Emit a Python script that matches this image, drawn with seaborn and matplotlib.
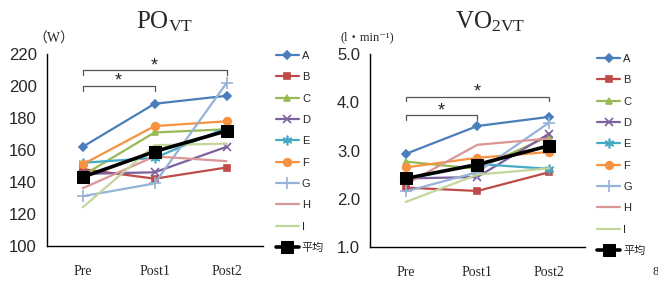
import numpy as np
import pandas as pd
import matplotlib
matplotlib.use("Agg")
import matplotlib.pyplot as plt
import seaborn as sns

phases = ["Pre", "Post1", "Post2"]
subjects = ["A", "B", "C", "D", "E", "F", "G", "H", "I"]

po_vt = {
    "A": [162, 189, 194],
    "B": [148, 142, 149],
    "C": [144, 171, 173],
    "D": [145, 146, 162],
    "E": [152, 155, 174],
    "F": [151, 175, 178],
    "G": [131, 139, 202],
    "H": [136, 156, 153],
    "I": [124, 163, 164],
}
po_mean = [143, 159, 172]

vo2_vt = {
    "A": [2.93, 3.51, 3.70],
    "B": [2.23, 2.16, 2.55],
    "C": [2.77, 2.62, 3.30],
    "D": [2.42, 2.45, 3.35],
    "E": [2.40, 2.72, 2.62],
    "F": [2.65, 2.85, 2.97],
    "G": [2.15, 2.55, 3.58],
    "H": [2.30, 3.12, 3.25],
    "I": [1.93, 2.50, 2.63],
}
vo2_mean = [2.42, 2.71, 3.10]

colors = {
    "A": "#4a7ebb", "B": "#be4b48", "C": "#98b954", "D": "#7d60a0",
    "E": "#46aac5", "F": "#f69240", "G": "#95b3d7", "H": "#d99694",
    "I": "#c3d69b",
}
markers = {
    "A": "D", "B": "s", "C": "^", "D": "x", "E": (6, 2, 0),
    "F": "o", "G": "+", "H": None, "I": None,
}
msizes = {"A": 4, "B": 5, "C": 5, "D": 6, "E": 7, "F": 5.5, "G": 8, "H": 0, "I": 0}

sns.set_theme(style="white")
plt.rcParams["font.family"] = ["Liberation Sans", "Noto Sans CJK JP"]
plt.rcParams["mathtext.fontset"] = "custom"
plt.rcParams["mathtext.rm"] = "Liberation Serif"
plt.rcParams["mathtext.it"] = "Liberation Serif:italic"
plt.rcParams["mathtext.bf"] = "Liberation Serif:bold"

fig = plt.figure(figsize=(6.58, 2.83), dpi=100)
ax1 = fig.add_axes([0.071, 0.132, 0.328, 0.676])
ax2 = fig.add_axes([0.562, 0.128, 0.327, 0.680])


def draw(ax, data, mean, ylim, yticks, fmt):
    for s in subjects:
        df = pd.DataFrame({"phase": phases, "val": data[s]})
        sns.lineplot(data=df, x="phase", y="val", ax=ax, color=colors[s],
                     marker=markers[s], markersize=msizes[s], markeredgecolor=colors[s],
                     markeredgewidth=1.2, lw=1.6, label=s, sort=False)
    dfm = pd.DataFrame({"phase": phases, "val": mean})
    sns.lineplot(data=dfm, x="phase", y="val", ax=ax, color="black", marker="s",
                 markersize=8, markeredgecolor="black", lw=2.6, label="平均", sort=False)
    ax.set_xlim(-0.5, 2.5)
    ax.set_ylim(*ylim)
    ax.set_yticks(yticks)
    ax.set_yticklabels([fmt.format(v) for v in yticks], fontsize=12)
    ax.set_xticks([-0.5, 0.5, 1.5, 2.5])
    ax.set_xticklabels([])
    ax.set_xticks([0, 1, 2], minor=True)
    ax.set_xticklabels(phases, minor=True, fontsize=10, family="Liberation Serif")
    ax.tick_params(axis="x", which="minor", length=0, pad=14)
    ax.tick_params(axis="x", which="major", length=4, width=1, color="black", direction="out")
    ax.tick_params(axis="y", length=4, width=1, color="black", direction="out", pad=3)
    ax.set_xlabel("")
    ax.set_ylabel("")
    for side in ["top", "right"]:
        ax.spines[side].set_visible(False)
    for side in ["left", "bottom"]:
        ax.spines[side].set_color("black")
        ax.spines[side].set_linewidth(1)
    ax.grid(False)
    if ax.get_legend():
        ax.get_legend().remove()


def bracket(ax, x0, x1, y, drop, star_y):
    ax.plot([x0, x0, x1, x1], [y - drop, y, y, y - drop], color="#555555", lw=0.9)
    ax.text((x0 + x1) / 2, star_y, "*", ha="center", va="center", fontsize=13)


draw(ax1, po_vt, po_mean, (100, 220), [100, 120, 140, 160, 180, 200, 220], "{:.0f}")
draw(ax2, vo2_vt, vo2_mean, (1.0, 5.0), [1.0, 2.0, 3.0, 4.0, 5.0], "{:.1f}")

bracket(ax1, 0, 1, 200, 3, 203)
bracket(ax1, 0, 2, 210, 3, 213)
bracket(ax2, 0, 1, 3.74, 0.1, 3.83)
bracket(ax2, 0, 2, 4.12, 0.1, 4.21)

for ax, x, y in [(ax1, 0.420, 0.820), (ax2, 0.908, 0.809)]:
    h, l = ax.get_legend_handles_labels()
    fig.legend(h, l, loc="upper left", bbox_to_anchor=(x, y), frameon=False,
               fontsize=8, labelspacing=1.02, handlelength=2.0, handletextpad=0.3,
               borderpad=0, borderaxespad=0)

fig.text(0.250, 0.925, r"PO$_{\mathrm{VT}}$", ha="center", va="center",
         fontsize=18, family="Liberation Serif")
fig.text(0.745, 0.925, r"VO$_{\mathrm{2VT}}$", ha="center", va="center",
         fontsize=18, family="Liberation Serif")
fig.text(0.050, 0.862, "（W）", ha="left", va="center", fontsize=10,
         family=["Liberation Serif", "Noto Sans CJK JP"])
fig.text(0.518, 0.870, "(l・min⁻¹)", ha="left", va="center", fontsize=9,
         family=["Liberation Serif", "DejaVu Serif", "DejaVu Sans", "Noto Sans CJK JP"])
fig.text(0.992, 0.04, "8", ha="left", va="center", fontsize=9, family="Liberation Serif")

fig.savefig("out.png", dpi=100)
